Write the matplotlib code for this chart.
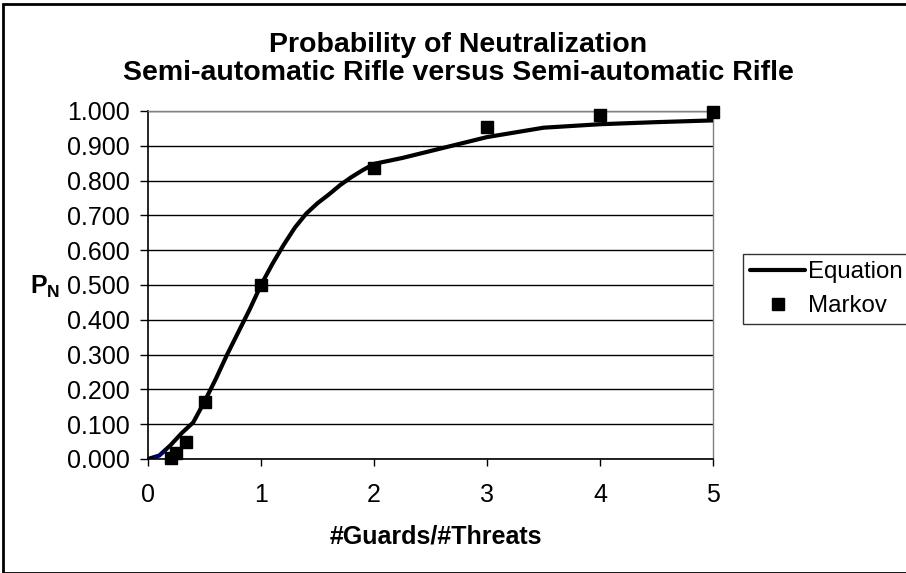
import matplotlib
matplotlib.use("Agg")
import matplotlib.pyplot as plt
from matplotlib.patches import Rectangle

plt.rcParams['font.family'] = ['Liberation Sans', 'DejaVu Sans']
plt.rcParams['mathtext.fontset'] = 'custom'
plt.rcParams['mathtext.rm'] = 'Liberation Sans'
plt.rcParams['mathtext.bf'] = 'Liberation Sans:bold'

# Data
eq_x = [0, 0.1, 0.2, 0.3, 0.4, 0.5, 0.6, 0.7, 0.8, 0.9, 1.0, 1.1, 1.2, 1.3, 1.4,
        1.5, 1.6, 1.7, 1.8, 1.9, 2.0, 2.25, 2.5, 2.75, 3.0, 3.5, 4.0, 4.5, 5.0]
eq_y = [0.0, 0.01, 0.04, 0.075, 0.105, 0.165, 0.23, 0.30, 0.365, 0.43, 0.50, 0.56,
        0.615, 0.665, 0.705, 0.735, 0.76, 0.787, 0.81, 0.83, 0.848, 0.865, 0.885,
        0.905, 0.925, 0.952, 0.962, 0.968, 0.973]
blue_x = [0.06, 0.1, 0.15]
blue_y = [0.004, 0.01, 0.022]
markov_x = [0.2, 0.25, 0.333, 0.5, 1.0, 2.0, 3.0, 4.0, 5.0]
markov_y = [0.004, 0.016, 0.048, 0.165, 0.5, 0.835, 0.955, 0.988, 0.996]
x_ticks = [0, 1, 2, 3, 4, 5]
y_ticks = [0.0, 0.1, 0.2, 0.3, 0.4, 0.5, 0.6, 0.7, 0.8, 0.9, 1.0]
title = "Probability of Neutralization\nSemi-automatic Rifle versus Semi-automatic Rifle"
x_label = "#Guards/#Threats"

W, H = 906, 573
fig = plt.figure(figsize=(W/100, H/100), dpi=100)
ax = fig.add_axes([148/W, 1-459/H, (713-148)/W, (459-111)/H])

ax.plot(eq_x, eq_y, color='black', lw=3, label='Equation', zorder=3,
        solid_joinstyle='round', solid_capstyle='round')
ax.plot(blue_x, blue_y, color='#000080', lw=2, zorder=3.5, label='_nolegend_')
ax.plot(markov_x, markov_y, ls='none', marker='s', ms=8.6, color='black',
        label='Markov', zorder=4, clip_on=False)

ax.set_xlim(0, 5)
ax.set_ylim(0, 1.0)
ax.set_xticks(x_ticks)
ax.set_xticklabels([str(v) for v in x_ticks])
ax.set_yticks(y_ticks)
ax.set_yticklabels([f"{v:.3f}" for v in y_ticks])
ax.tick_params(axis='both', labelsize=18, width=1, color='black', direction='out')
ax.tick_params(axis='x', length=5, pad=12)
ax.tick_params(axis='y', length=6, pad=7)
ax.grid(axis='y', color='black', lw=1)
ax.set_axisbelow(True)
for s in ['left', 'bottom']:
    ax.spines[s].set_color('black')
    ax.spines[s].set_linewidth(1.2)
for s in ['right', 'top']:
    ax.spines[s].set_color('#808080')
    ax.spines[s].set_linewidth(1)

fig.text(458/W, 1-59/H, title, ha='center', va='center', fontsize=20.5,
         fontweight='bold', linespacing=1.12)
fig.text(436/W, 1-537/H, x_label, ha='center', va='center', fontsize=18,
         fontweight='bold')
fig.text(45/W, 1-287/H, r'$\mathbf{P_N}$', ha='center', va='center', fontsize=18)

leg = ax.legend(loc='center left', bbox_to_anchor=(743/W, 1-289/H), bbox_transform=fig.transFigure,
                frameon=True, fancybox=False, edgecolor='black', fontsize=17.3,
                handlelength=2.3, handletextpad=0.1, borderpad=0.3, labelspacing=0.5,
                borderaxespad=0)
leg.get_frame().set_linewidth(1)

fig.patches.append(Rectangle((3/W, 0), 1, 1-4/H, transform=fig.transFigure,
                             fill=False, edgecolor='black', lw=2))

fig.savefig("out.png", dpi=100)
